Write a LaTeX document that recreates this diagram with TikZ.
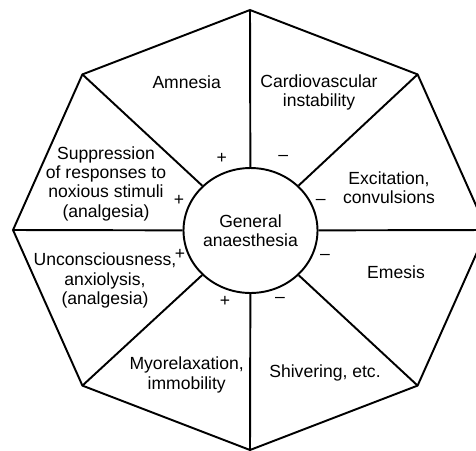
\documentclass[tikz,border=0pt]{standalone}
\usepackage{fontspec}
\setmainfont{Liberation Sans}
\usetikzlibrary{shapes.geometric}
\begin{document}
\begin{tikzpicture}[x=0.02cm, y=-0.02cm, line width=1.1pt,
        every node/.style={font=\fontsize{10}{11}\selectfont, align=center},
        sign/.style={inner sep=0pt}]
    \useasboundingbox (0,0) rectangle (476,450);
    \clip (0,0) rectangle (476,450);

    % octagon corners
    \coordinate (n)  at (250,10);
    \coordinate (ne) at (417.6,74.4);
    \coordinate (e)  at (487,230);
    \coordinate (se) at (417.6,385.6);
    \coordinate (s)  at (250,450);
    \coordinate (sw) at (82.4,385.6);
    \coordinate (w)  at (13,230);
    \coordinate (nw) at (82.4,74.4);

    \draw (n) -- (ne) -- (e) -- (se) -- (s) -- (sw) -- (w) -- (nw) -- cycle;

    \node[draw, ellipse, minimum width=2.65cm, minimum height=2.5cm, inner sep=0pt] (ga) at (250.5,230.5) {General\\anaesthesia};

    \foreach \c in {n,ne,e,se,s,sw,w,nw}
        \draw (ga) -- (\c);

    % effects
    \node (amn)  at (186.7,82.7)  {Amnesia};
    \node (card) at (319,92.7)    {Cardiovascular\\instability};
    \node (exc)  at (389,187.7)   {Excitation,\\convulsions};
    \node (eme)  at (396,272.7)   {Emesis};
    \node (shiv) at (325,373.3)   {Shivering, etc.};
    \node (myo)  at (186.7,375)   {Myorelaxation,\\immobility};
    \node (unc)  at (105,280.5)   {Unconsciousness,\\anxiolysis,\\(analgesia)};
    \node (supp) at (106,183.5)   {Suppression\\of responses to\\noxious stimuli\\(analgesia)};

    % signs
    \node[sign] (p1) at (221.7,158.3) {+};
    \node[sign] (m1) at (283.3,158.3) {–};
    \node[sign] (p2) at (179,200)     {+};
    \node[sign] (m2) at (320.7,201.7) {–};
    \node[sign] (p3) at (180,254.5)   {+};
    \node[sign] (m3) at (325,256.7)   {–};
    \node[sign] (p4) at (225,301.7)   {+};
    \node[sign] (m4) at (280,300)     {–};
\end{tikzpicture}
\end{document}
